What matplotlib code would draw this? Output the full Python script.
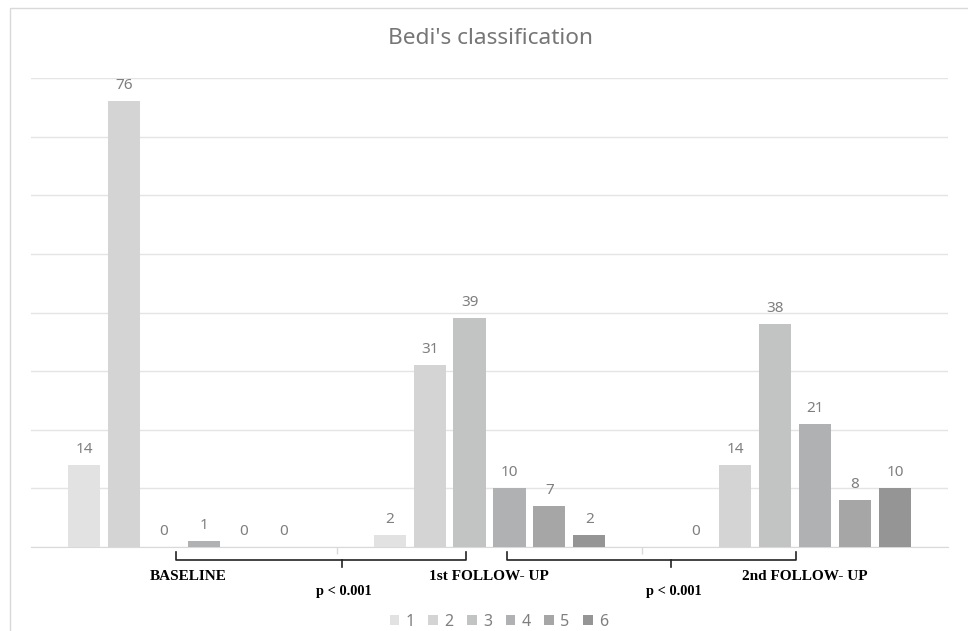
import numpy as np
import matplotlib
matplotlib.use("Agg")
import matplotlib.pyplot as plt
from matplotlib.patches import Rectangle, Patch
from matplotlib.lines import Line2D

# --- data ---
groups = ["BASELINE", "1st FOLLOW- UP", "2nd FOLLOW- UP"]
series = ["1", "2", "3", "4", "5", "6"]
s1 = [14, 2, 0]
s2 = [76, 31, 14]
s3 = [0, 39, 38]
s4 = [1, 10, 21]
s5 = [0, 7, 8]
s6 = [0, 2, 10]
values = [s1, s2, s3, s4, s5, s6]
pvals = ["p < 0.001", "p < 0.001"]

COLORS = ["#e1e2e1", "#d4d4d4", "#c2c3c3", "#b0b1b2", "#a5a6a5", "#959595"]
LABEL = "#7f7f7f"
GRID = "#e4e4e4"
AXIS = "#d9d9d9"
FONT = "Noto Sans"

W, H = 968, 631
fig = plt.figure(figsize=(W / 100, H / 100), dpi=100)
fig.patch.set_facecolor("white")

# axes placed by pixel box
x0, x1, yb, yt = 31, 948, 547, 78
ax = fig.add_axes([x0 / W, 1 - yb / H, (x1 - x0) / W, (yb - yt) / H])

# outer chart frame
fig.patches.append(Rectangle((10 / W, -0.1), 1.2, 1 - 8 / H + 0.1,
                             transform=fig.transFigure, fill=False,
                             edgecolor=AXIS, lw=1.0))

x = np.arange(len(groups))
slot = 0.1307
bw = 0.105
for i, (vals, c) in enumerate(zip(values, COLORS)):
    off = (i - 2.5) * slot
    bars = ax.bar(x + off, vals, bw, color=c, zorder=3)
    for r, v in zip(bars, vals):
        ax.text(r.get_x() + r.get_width() / 2, v + 1.4, f"{v}", ha="center",
                va="bottom", fontsize=11, color=LABEL, family=FONT)

ax.set_xlim(-0.5, 2.5)
ax.set_ylim(0, 80)
ax.set_yticks(np.arange(0, 81, 10))
ax.yaxis.grid(True, color=GRID, lw=1.0, zorder=0)
ax.set_axisbelow(True)
ax.tick_params(axis="y", length=0, labelleft=False)
ax.set_xticks([0.5, 1.5])
ax.set_xticklabels([])
ax.tick_params(axis="x", length=5, color=AXIS, width=1.0)
for s in ["top", "right", "left"]:
    ax.spines[s].set_visible(False)
ax.spines["bottom"].set_color(AXIS)

fig.text(490 / W, 1 - 39 / H, "Bedi's classification", ha="center", va="center",
         fontsize=16.3, color="#767676", family=FONT)

# brackets between time points (x in data, y in axes fraction)
tr = ax.get_xaxis_transform()
brackets = [(-0.026, 0.516, 0.922), (1.056, 1.595, 2.003)]
ytop, ymid, ybot = -5 / 469, -13 / 469, -20 / 469
for a, m, b in brackets:
    ax.add_line(Line2D([a, a, b, b], [ytop, ymid, ymid, ytop], transform=tr,
                       color="#222222", lw=1.2, clip_on=False))
    ax.add_line(Line2D([m, m], [ymid, ybot], transform=tr,
                       color="#222222", lw=1.2, clip_on=False))

grp_x = [0.013, 0.997, 2.03]
for gx, g in zip(grp_x, groups):
    ax.text(gx, -30 / 469, g, transform=tr, ha="center", va="center",
            fontsize=11, fontweight="bold", family="Liberation Serif", color="black")
for (a, m, b), p in zip(brackets, pvals):
    ax.text(m + 0.007, -45 / 469, p, transform=tr, ha="center", va="center",
            fontsize=10.4, fontweight="bold", family="Liberation Serif", color="black")

handles = [Patch(facecolor=c, edgecolor="none") for c in COLORS]
leg = fig.legend(handles, series, loc="center", bbox_to_anchor=(499 / W, 1 - 622 / H),
                 ncol=6, frameon=False, handlelength=0.6, handleheight=0.6,
                 handletextpad=0.4, columnspacing=0.85,
                 prop={"family": FONT, "size": 11.5})
for t in leg.get_texts():
    t.set_color(LABEL)

fig.savefig("out.png", dpi=100, facecolor="white")
